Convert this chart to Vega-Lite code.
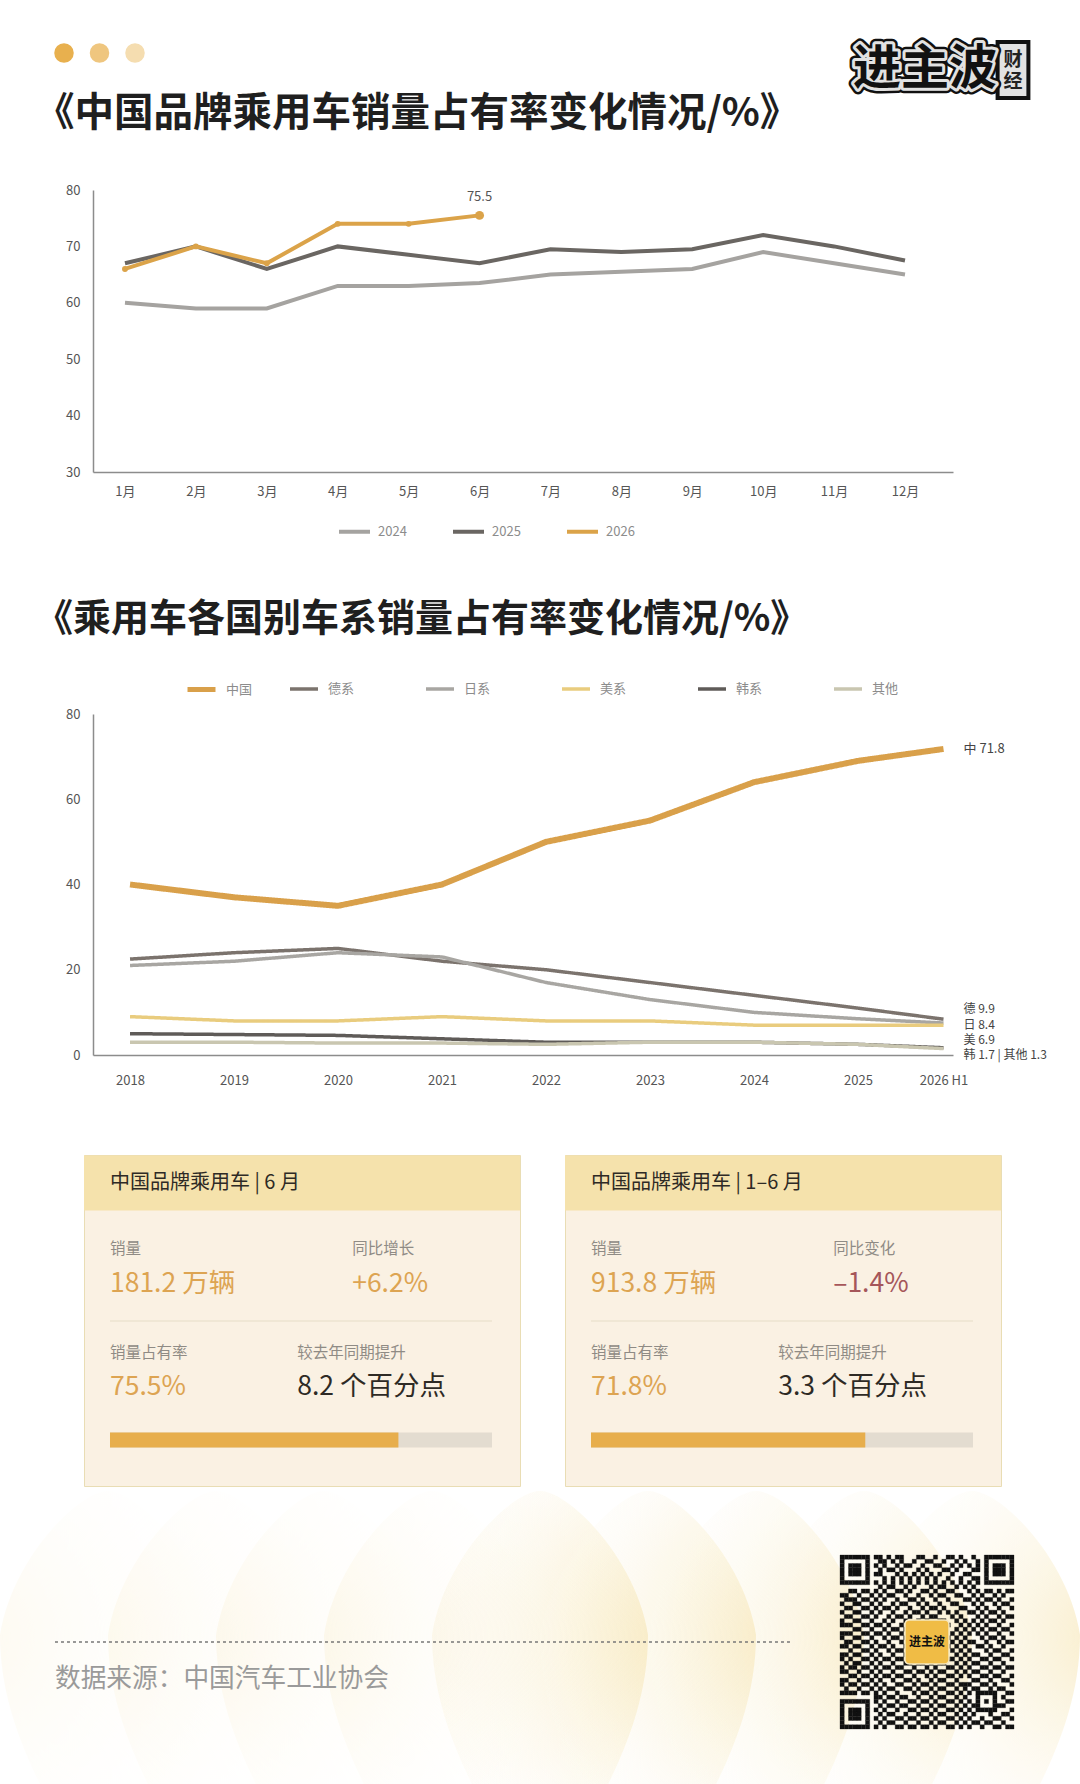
{
  "$schema": "https://vega.github.io/schema/vega-lite/v6.json",
  "background": "white",
  "padding": 0,
  "bounds": "flush",
  "spacing": 0,
  "resolve": {"scale": {"color": "independent", "size": "independent", "strokeWidth": "independent", "strokeDash": "independent", "opacity": "independent", "fillOpacity": "independent"}},
  "config": {
    "font": "Noto Sans CJK SC",
    "view": {"stroke": null},
    "title": {"anchor": "start", "frame": "group", "fontSize": 39.5, "fontWeight": "bold", "color": "#1f1f1f"},
    "axis": {"ticks": false, "grid": false, "labelFontSize": 13, "labelColor": "#555555", "domainColor": "#8c8c8c", "domainWidth": 1.5, "title": null}
  },
  "datasets": {
    "header": [
      {"part": "dot", "slot": 1, "row": 1},
      {"part": "dot", "slot": 2, "row": 1},
      {"part": "dot", "slot": 3, "row": 1},
      {"part": "box", "slot": 5, "row": 2},
      {"part": "brand", "slot": 4, "row": 2, "text": "进主波"},
      {"part": "fin", "slot": 5, "row": 3, "text": "财"},
      {"part": "fin", "slot": 5, "row": 4, "text": "经"}
    ],
    "brandShare": [
      {"series": "2024", "month": 1, "value": 60},
      {"series": "2024", "month": 2, "value": 59},
      {"series": "2024", "month": 3, "value": 59},
      {"series": "2024", "month": 4, "value": 63},
      {"series": "2024", "month": 5, "value": 63},
      {"series": "2024", "month": 6, "value": 63.5},
      {"series": "2024", "month": 7, "value": 65},
      {"series": "2024", "month": 8, "value": 65.5},
      {"series": "2024", "month": 9, "value": 66},
      {"series": "2024", "month": 10, "value": 69},
      {"series": "2024", "month": 11, "value": 67},
      {"series": "2024", "month": 12, "value": 65},
      {"series": "2025", "month": 1, "value": 67},
      {"series": "2025", "month": 2, "value": 70},
      {"series": "2025", "month": 3, "value": 66},
      {"series": "2025", "month": 4, "value": 70},
      {"series": "2025", "month": 5, "value": 68.5},
      {"series": "2025", "month": 6, "value": 67},
      {"series": "2025", "month": 7, "value": 69.5},
      {"series": "2025", "month": 8, "value": 69},
      {"series": "2025", "month": 9, "value": 69.5},
      {"series": "2025", "month": 10, "value": 72},
      {"series": "2025", "month": 11, "value": 70},
      {"series": "2025", "month": 12, "value": 67.5},
      {"series": "2026", "month": 1, "value": 66},
      {"series": "2026", "month": 2, "value": 70},
      {"series": "2026", "month": 3, "value": 67},
      {"series": "2026", "month": 4, "value": 74},
      {"series": "2026", "month": 5, "value": 74},
      {"series": "2026", "month": 6, "value": 75.5}
    ],
    "national": [
      {"series": "中国", "year": 2018, "value": 40},
      {"series": "中国", "year": 2019, "value": 37},
      {"series": "中国", "year": 2020, "value": 35},
      {"series": "中国", "year": 2021, "value": 40},
      {"series": "中国", "year": 2022, "value": 50},
      {"series": "中国", "year": 2023, "value": 55},
      {"series": "中国", "year": 2024, "value": 64},
      {"series": "中国", "year": 2025, "value": 69},
      {"series": "中国", "year": 2026, "value": 71.8},
      {"series": "德系", "year": 2018, "value": 22.5},
      {"series": "德系", "year": 2019, "value": 24},
      {"series": "德系", "year": 2020, "value": 25},
      {"series": "德系", "year": 2021, "value": 22},
      {"series": "德系", "year": 2022, "value": 20},
      {"series": "德系", "year": 2023, "value": 17},
      {"series": "德系", "year": 2024, "value": 14},
      {"series": "德系", "year": 2025, "value": 11},
      {"series": "德系", "year": 2026, "value": 8.4},
      {"series": "日系", "year": 2018, "value": 21},
      {"series": "日系", "year": 2019, "value": 22},
      {"series": "日系", "year": 2020, "value": 24},
      {"series": "日系", "year": 2021, "value": 23},
      {"series": "日系", "year": 2022, "value": 17},
      {"series": "日系", "year": 2023, "value": 13},
      {"series": "日系", "year": 2024, "value": 10},
      {"series": "日系", "year": 2025, "value": 8.5},
      {"series": "日系", "year": 2026, "value": 7.5},
      {"series": "美系", "year": 2018, "value": 9},
      {"series": "美系", "year": 2019, "value": 8},
      {"series": "美系", "year": 2020, "value": 8},
      {"series": "美系", "year": 2021, "value": 9},
      {"series": "美系", "year": 2022, "value": 8},
      {"series": "美系", "year": 2023, "value": 8},
      {"series": "美系", "year": 2024, "value": 7},
      {"series": "美系", "year": 2025, "value": 7},
      {"series": "美系", "year": 2026, "value": 7},
      {"series": "韩系", "year": 2018, "value": 5},
      {"series": "韩系", "year": 2019, "value": 4.8},
      {"series": "韩系", "year": 2020, "value": 4.6},
      {"series": "韩系", "year": 2021, "value": 3.8},
      {"series": "韩系", "year": 2022, "value": 3},
      {"series": "韩系", "year": 2023, "value": 3},
      {"series": "韩系", "year": 2024, "value": 3},
      {"series": "韩系", "year": 2025, "value": 2.5},
      {"series": "韩系", "year": 2026, "value": 1.7},
      {"series": "其他", "year": 2018, "value": 3},
      {"series": "其他", "year": 2019, "value": 3},
      {"series": "其他", "year": 2020, "value": 2.8},
      {"series": "其他", "year": 2021, "value": 2.8},
      {"series": "其他", "year": 2022, "value": 2.5},
      {"series": "其他", "year": 2023, "value": 3},
      {"series": "其他", "year": 2024, "value": 3},
      {"series": "其他", "year": 2025, "value": 2.5},
      {"series": "其他", "year": 2026, "value": 1.5}
    ],
    "cards": [
      {"card": "A", "use": "band", "row": 1, "from": -6.806, "share": 107.33},
      {"card": "A", "use": "rule", "part": "divider", "row": 4, "from": 0, "share": 100},
      {"card": "A", "use": "rule", "part": "track", "row": 7, "from": 0, "share": 100},
      {"card": "A", "use": "rule", "part": "fill", "row": 7, "from": 0, "share": 75.5},
      {"card": "A", "use": "text", "from": 0, "row": 1, "kind": "header", "part": "ink", "text": "中国品牌乘用车 | 6 月"},
      {"card": "A", "use": "text", "from": 0, "row": 2, "kind": "label", "part": "muted", "text": "销量"},
      {"card": "A", "use": "text", "from": 63.4, "row": 2, "kind": "label", "part": "muted", "text": "同比增长"},
      {"card": "A", "use": "text", "from": 0, "row": 3, "kind": "value", "part": "gold", "text": "181.2 万辆"},
      {"card": "A", "use": "text", "from": 63.4, "row": 3, "kind": "value", "part": "gold", "text": "+6.2%"},
      {"card": "A", "use": "text", "from": 0, "row": 5, "kind": "label", "part": "muted", "text": "销量占有率"},
      {"card": "A", "use": "text", "from": 49, "row": 5, "kind": "label", "part": "muted", "text": "较去年同期提升"},
      {"card": "A", "use": "text", "from": 0, "row": 6, "kind": "value", "part": "gold", "text": "75.5%"},
      {"card": "A", "use": "text", "from": 49, "row": 6, "kind": "value", "part": "ink", "text": "8.2 个百分点"},
      {"card": "B", "use": "band", "row": 1, "from": -6.806, "share": 107.33},
      {"card": "B", "use": "rule", "part": "divider", "row": 4, "from": 0, "share": 100},
      {"card": "B", "use": "rule", "part": "track", "row": 7, "from": 0, "share": 100},
      {"card": "B", "use": "rule", "part": "fill", "row": 7, "from": 0, "share": 71.8},
      {"card": "B", "use": "text", "from": 0, "row": 1, "kind": "header", "part": "ink", "text": "中国品牌乘用车 | 1–6 月"},
      {"card": "B", "use": "text", "from": 0, "row": 2, "kind": "label", "part": "muted", "text": "销量"},
      {"card": "B", "use": "text", "from": 63.4, "row": 2, "kind": "label", "part": "muted", "text": "同比变化"},
      {"card": "B", "use": "text", "from": 0, "row": 3, "kind": "value", "part": "gold", "text": "913.8 万辆"},
      {"card": "B", "use": "text", "from": 63.4, "row": 3, "kind": "value", "part": "down", "text": "–1.4%"},
      {"card": "B", "use": "text", "from": 0, "row": 5, "kind": "label", "part": "muted", "text": "销量占有率"},
      {"card": "B", "use": "text", "from": 49, "row": 5, "kind": "label", "part": "muted", "text": "较去年同期提升"},
      {"card": "B", "use": "text", "from": 0, "row": 6, "kind": "value", "part": "gold", "text": "71.8%"},
      {"card": "B", "use": "text", "from": 49, "row": 6, "kind": "value", "part": "ink", "text": "3.3 个百分点"}
    ],
    "qr": [
      {"r": 0, "c": [0,1,2,3,4,5,6,8,9,11,13,14,18,19,22,25,26,28,31,34,35,36,37,38,39,40]},
      {"r": 1, "c": [0,6,9,10,12,14,17,20,21,24,27,29,32,34,40]},
      {"r": 2, "c": [0,2,3,4,6,8,10,13,15,16,19,22,23,26,28,30,32,34,36,37,38,40]},
      {"r": 3, "c": [0,2,3,4,6,9,11,12,14,18,20,24,25,27,31,32,34,36,37,38,40]},
      {"r": 4, "c": [0,2,3,4,6,8,9,13,15,17,19,21,23,26,29,30,34,36,37,38,40]},
      {"r": 5, "c": [0,6,10,12,14,16,18,20,22,25,28,31,32,34,40]},
      {"r": 6, "c": [0,1,2,3,4,5,6,8,10,12,14,16,18,20,22,24,26,28,30,32,34,35,36,37,38,39,40]},
      {"r": 7, "c": [9,11,12,15,17,21,23,24,27,29,31]},
      {"r": 8, "c": [2,3,5,6,8,10,13,14,16,19,20,22,25,26,30,32,34,35,37,39,40]},
      {"r": 9, "c": [0,1,4,7,9,11,12,15,18,21,23,24,27,28,31,33,36,38]},
      {"r": 10, "c": [1,2,3,5,6,8,10,13,16,17,19,22,25,29,30,32,34,35,37,40]},
      {"r": 11, "c": [0,3,4,7,9,12,14,15,18,20,23,26,27,31,33,36,38,39]},
      {"r": 12, "c": [1,2,5,6,8,10,11,13,16,19,21,22,24,28,29,32,34,37,40]},
      {"r": 13, "c": [0,3,4,7,9,12,15,17,18,20,23,25,27,30,31,33,35,36,38]},
      {"r": 14, "c": [1,2,5,6,8,11,13,14,16,19,21,22,26,28,32,34,37,39,40]},
      {"r": 15, "c": [0,3,4,7,10,12,15,18,20,23,24,27,29,31,33,35,36,38]},
      {"r": 16, "c": [0,1,2,5,6,8,9,11,14,25,28,30,32,34,37,40]},
      {"r": 17, "c": [3,4,7,10,12,13,15,27,29,31,33,35,36,38,39]},
      {"r": 18, "c": [0,1,2,5,6,8,9,11,14,26,28,30,32,34,37,40]},
      {"r": 19, "c": [0,3,4,7,10,12,13,15,25,27,29,33,35,36,38]},
      {"r": 20, "c": [1,2,5,6,8,11,14,26,28,30,31,34,37,39,40]},
      {"r": 21, "c": [0,1,3,4,7,9,10,12,15,25,27,29,32,33,35,38]},
      {"r": 22, "c": [2,5,6,8,11,13,14,26,28,30,34,36,37,40]},
      {"r": 23, "c": [0,1,3,4,7,9,12,15,27,29,31,32,35,38,39]},
      {"r": 24, "c": [0,2,5,6,8,10,11,13,14,25,26,28,30,33,34,36,37,40]},
      {"r": 25, "c": [1,3,4,7,9,12,15,16,18,19,21,23,24,27,29,31,32,35,38]},
      {"r": 26, "c": [0,2,3,5,6,8,10,11,13,14,17,20,22,25,26,28,30,33,34,36,37,39,40]},
      {"r": 27, "c": [0,1,4,7,9,12,15,16,18,19,21,23,24,27,29,31,32,35,38]},
      {"r": 28, "c": [2,3,5,6,8,10,11,13,14,17,20,22,25,26,28,30,33,34,36,37,40]},
      {"r": 29, "c": [0,1,4,7,9,12,15,16,18,21,23,24,27,31,32,35,38,39]},
      {"r": 30, "c": [0,2,3,5,6,8,10,13,14,17,19,20,22,25,26,28,29,30,33,34,36,40]},
      {"r": 31, "c": [1,4,7,9,11,12,15,16,18,21,23,24,27,29,31,32,35,37,38]},
      {"r": 32, "c": [0,1,2,3,5,6,8,10,13,17,19,20,22,25,26,28,30,32,33,34,35,36,39,40]},
      {"r": 33, "c": [8,9,11,12,14,15,18,21,23,24,27,29,32,36,38]},
      {"r": 34, "c": [0,1,2,3,4,5,6,8,10,13,16,17,19,20,22,25,26,28,30,32,34,36,39,40]},
      {"r": 35, "c": [0,6,9,11,12,14,15,18,21,23,24,27,29,31,32,36,37,38]},
      {"r": 36, "c": [0,2,3,4,6,8,10,13,16,17,19,20,22,25,26,28,30,32,33,34,35,36,40]},
      {"r": 37, "c": [0,2,3,4,6,9,11,12,15,18,21,23,24,27,29,31,35,38,39]},
      {"r": 38, "c": [0,2,3,4,6,8,10,13,14,16,17,19,20,22,25,26,28,30,33,36,37,40]},
      {"r": 39, "c": [0,6,9,11,12,15,18,21,23,24,27,29,31,32,34,35,38]},
      {"r": 40, "c": [0,1,2,3,4,5,6,8,10,13,14,16,17,19,20,22,25,26,28,30,33,36,37,39,40]}
    ]
  },
  "vconcat": [
    {
      "width": 1080,
      "height": 190,
      "data": {"name": "header"},
      "encoding": {
        "x": {"field": "slot", "type": "quantitative", "axis": null, "scale": {"domain": [1,2,3,4,5], "range": [64,99.5,135,925,1013], "nice": false, "zero": false}},
        "y": {"field": "row", "type": "quantitative", "axis": null, "scale": {"domain": [1,2,3,4], "range": [53,70,60,82], "nice": false, "zero": false}}
      },
      "layer": [
        {
          "transform": [{"filter": "datum.part == 'dot'"}],
          "mark": {"type": "point", "filled": true, "size": 380, "opacity": 1},
          "encoding": {
            "color": {"field": "slot", "type": "ordinal", "legend": null, "scale": {"domain": [1,2,3], "range": ["#E8B04E","#EFC67F","#F5DDB0"]}}
          }
        },
        {
          "transform": [{"filter": "datum.part == 'box'"}],
          "mark": {"type": "point", "shape": "M-0.55,-1H0.55V1H-0.55Z", "size": 3136, "filled": true, "opacity": 1, "fill": "#e2e2e2", "stroke": "#111111", "strokeWidth": 4}
        },
        {
          "transform": [{"filter": "datum.part == 'brand'"}],
          "mark": {"type": "text", "fontSize": 48, "fontWeight": "bold", "stroke": "#111111", "strokeWidth": 11, "strokeJoin": "round", "color": "#111111"},
          "encoding": {"text": {"field": "text", "type": "nominal"}}
        },
        {
          "transform": [{"filter": "datum.part == 'brand'"}],
          "mark": {"type": "text", "fontSize": 48, "fontWeight": "bold", "stroke": "#e2e2e2", "strokeWidth": 6, "strokeJoin": "round", "color": "#e2e2e2"},
          "encoding": {"text": {"field": "text", "type": "nominal"}}
        },
        {
          "transform": [{"filter": "datum.part == 'brand'"}],
          "mark": {"type": "text", "fontSize": 48, "fontWeight": "bold", "color": "#111111"},
          "encoding": {"text": {"field": "text", "type": "nominal"}}
        },
        {
          "transform": [{"filter": "datum.part == 'fin'"}],
          "mark": {"type": "text", "fontSize": 19, "fontWeight": "bold", "color": "#222222"},
          "encoding": {"text": {"field": "text", "type": "nominal"}}
        }
      ]
    },
    {
      "width": 1080,
      "height": 282,
      "title": {"text": "《中国品牌乘用车销量占有率变化情况/%》", "dx": 35, "offset": 50},
      "data": {"name": "brandShare"},
      "encoding": {
        "x": {
          "field": "month",
          "type": "quantitative",
          "scale": {"domain": [0.549,12.677], "range": [93,953], "nice": false, "zero": false},
          "axis": {"values": [1,2,3,4,5,6,7,8,9,10,11,12], "labelExpr": "datum.value + '月'", "labelPadding": 13}
        },
        "y": {
          "field": "value",
          "type": "quantitative",
          "scale": {"domain": [30,80], "nice": false, "zero": false},
          "axis": {"values": [30,40,50,60,70,80], "offset": -93, "labelPadding": 13}
        }
      },
      "layer": [
        {
          "mark": {"type": "line", "strokeWidth": 4},
          "encoding": {
            "color": {
              "field": "series",
              "type": "nominal",
              "scale": {"domain": ["2024","2025","2026"], "range": ["#A5A3A0","#6A6662","#DBA349"]},
              "legend": {"orient": "none", "legendX": 337, "legendY": 324, "direction": "horizontal", "columns": 3, "title": null, "symbolType": "stroke", "symbolSize": 961, "symbolStrokeWidth": 4, "labelFontSize": 13, "labelColor": "#8c8c8c", "labelOffset": 6, "columnPadding": 38}
            }
          }
        },
        {
          "transform": [{"filter": "datum.series == '2026' && datum.month < 6"}],
          "mark": {"type": "point", "filled": true, "size": 35, "opacity": 1, "color": "#DBA349"}
        },
        {
          "transform": [{"filter": "datum.month == 6 && datum.series == '2026'"}],
          "mark": {"type": "point", "filled": true, "size": 80, "opacity": 1, "color": "#DBA349"}
        },
        {
          "transform": [{"filter": "datum.month == 6 && datum.series == '2026'"}],
          "mark": {"type": "text", "dy": -18, "fontSize": 13, "color": "#555555"},
          "encoding": {"text": {"field": "value", "type": "quantitative", "format": ".1f"}}
        }
      ]
    },
    {"width": 1080, "height": 242, "data": {"values": []}, "mark": "point"},
    {
      "width": 1080,
      "height": 341,
      "title": {"text": "《乘用车各国别车系销量占有率变化情况/%》", "dx": 35, "offset": 34, "fontSize": 38},
      "data": {"name": "national"},
      "encoding": {
        "x": {
          "field": "year",
          "type": "quantitative",
          "scale": {"domain": [2017.644,2025,2026,2026.11], "range": [93,858,943.5,953], "nice": false, "zero": false},
          "axis": {"values": [2018,2019,2020,2021,2022,2023,2024,2025,2026], "labelExpr": "datum.value == 2026 ? '2026 H1' : '' + datum.value", "labelPadding": 19}
        },
        "y": {
          "field": "value",
          "type": "quantitative",
          "scale": {"domain": [0,80], "nice": false},
          "axis": {"values": [0,20,40,60,80], "offset": -93, "labelPadding": 13}
        }
      },
      "layer": [
        {
          "mark": {"type": "line"},
          "encoding": {
            "color": {
              "field": "series",
              "type": "nominal",
              "scale": {"domain": ["中国","德系","日系","美系","韩系","其他"], "range": ["#D9A04A","#7B736D","#A8A6A2","#E9CC7E","#5F5B58","#C9C6B0"]},
              "legend": {"values": ["德系","日系","美系","韩系","其他"], "orient": "none", "legendX": 288, "legendY": -41, "direction": "horizontal", "columns": 5, "title": null, "symbolType": "stroke", "symbolSize": 784, "symbolStrokeWidth": 4, "labelFontSize": 13, "labelColor": "#8c8c8c", "labelOffset": 8, "columnPadding": 64}
            },
            "strokeDash": {
              "field": "series",
              "type": "nominal",
              "scale": {"domain": ["其他","韩系","美系","日系","德系","中国"], "range": [[1,0],[1,0],[1,0],[1,0],[1,0],[1,0]]},
              "legend": {"values": ["中国"], "orient": "none", "legendX": 185, "legendY": -41, "direction": "horizontal", "title": null, "symbolType": "stroke", "symbolSize": 784, "symbolStrokeWidth": 5, "symbolStrokeColor": "#D9A04A", "labelFontSize": 13, "labelColor": "#8c8c8c", "labelOffset": 8}
            },
            "strokeWidth": {
              "field": "series",
              "type": "nominal",
              "legend": null,
              "scale": {"type": "ordinal", "domain": ["中国","德系","日系","美系","韩系","其他"], "range": [6,3.5,3.5,3.5,3.5,3.5]}
            }
          }
        },
        {
          "data": {"values": [{"label": "中 71.8", "year": 2026, "value": 71.8}]},
          "mark": {"type": "text", "align": "left", "dx": 20, "fontSize": 13, "color": "#444444"},
          "encoding": {"text": {"field": "label", "type": "nominal"}}
        },
        {
          "data": {"values": [{"label": "德 9.9", "year": 2026, "value": 9.9}]},
          "mark": {"type": "text", "align": "left", "dx": 20, "dy": -4, "fontSize": 12, "color": "#444444"},
          "encoding": {"text": {"field": "label", "type": "nominal"}}
        },
        {
          "data": {"values": [{"label": "日 8.4", "year": 2026, "value": 8.4}]},
          "mark": {"type": "text", "align": "left", "dx": 20, "dy": 6, "fontSize": 12, "color": "#444444"},
          "encoding": {"text": {"field": "label", "type": "nominal"}}
        },
        {
          "data": {"values": [{"label": "美 6.9", "year": 2026, "value": 6.9}]},
          "mark": {"type": "text", "align": "left", "dx": 20, "dy": 14.5, "fontSize": 12, "color": "#444444"},
          "encoding": {"text": {"field": "label", "type": "nominal"}}
        },
        {
          "data": {"values": [{"label": "韩 1.7 | 其他 1.3", "year": 2026, "value": 1.7}]},
          "mark": {"type": "text", "align": "left", "dx": 20, "dy": 7.5, "fontSize": 12, "color": "#444444"},
          "encoding": {"text": {"field": "label", "type": "nominal"}}
        }
      ]
    },
    {"width": 1080, "height": 100, "data": {"values": []}, "mark": "point"},
    {
      "bounds": "flush",
      "spacing": 45,
      "resolve": {"scale": {"color": "independent", "size": "independent", "strokeWidth": "independent"}},
      "hconcat": [
        {"width": 39, "height": 331, "data": {"values": []}, "mark": "point"},
        {
          "data": {"name": "cards"},
          "transform": [{"filter": "datum.card == 'A'"}],
          "width": 436,
          "height": 331,
          "view": {"fill": "#FAF1E3", "stroke": "#E9DDB4"},
          "encoding": {
            "x": {"field": "from", "type": "quantitative", "axis": null, "scale": {"domain": [-6.806,107.33], "nice": false, "zero": false}},
            "y": {"field": "row", "type": "quantitative", "axis": null, "scale": {"domain": [1,2,3,4,5,6,7], "range": [28,94,129,166,198,232,285], "nice": false, "zero": false}},
            "color": {"field": "part", "type": "nominal", "legend": null, "scale": {"domain": ["divider","track","fill","ink","muted","gold","down"], "range": ["#EDE3D1","#E3DCD0","#E7AE4C","#2e2a25","#8f8b85","#DDA452","#A5565A"]}}
          },
          "layer": [
            {
              "transform": [{"filter": "datum.use == 'band'"}],
              "mark": {"type": "rule", "strokeWidth": 55},
              "encoding": {"x2": {"field": "share"}, "color": {"value": "#F5E2AC"}}
            },
            {
              "transform": [{"filter": "datum.use == 'rule'"}],
              "mark": {"type": "rule"},
              "encoding": {
                "x2": {"field": "share"},
                "strokeWidth": {"field": "part", "type": "nominal", "legend": null, "scale": {"type": "ordinal", "domain": ["divider","track","fill"], "range": [1.5,15,15]}}
              }
            },
            {
              "transform": [{"filter": "datum.use == 'text'"}],
              "mark": {"type": "text", "align": "left", "baseline": "middle"},
              "encoding": {
                "text": {"field": "text", "type": "nominal"},
                "size": {"field": "kind", "type": "nominal", "legend": null, "scale": {"type": "ordinal", "domain": ["header","label","value"], "range": [20,15.5,26.5]}}
              }
            }
          ]
        },
        {
          "data": {"name": "cards"},
          "transform": [{"filter": "datum.card == 'B'"}],
          "width": 436,
          "height": 331,
          "view": {"fill": "#FAF1E3", "stroke": "#E9DDB4"},
          "encoding": {
            "x": {"field": "from", "type": "quantitative", "axis": null, "scale": {"domain": [-6.806,107.33], "nice": false, "zero": false}},
            "y": {"field": "row", "type": "quantitative", "axis": null, "scale": {"domain": [1,2,3,4,5,6,7], "range": [28,94,129,166,198,232,285], "nice": false, "zero": false}},
            "color": {"field": "part", "type": "nominal", "legend": null, "scale": {"domain": ["divider","track","fill","ink","muted","gold","down"], "range": ["#EDE3D1","#E3DCD0","#E7AE4C","#2e2a25","#8f8b85","#DDA452","#A5565A"]}}
          },
          "layer": [
            {
              "transform": [{"filter": "datum.use == 'band'"}],
              "mark": {"type": "rule", "strokeWidth": 55},
              "encoding": {"x2": {"field": "share"}, "color": {"value": "#F5E2AC"}}
            },
            {
              "transform": [{"filter": "datum.use == 'rule'"}],
              "mark": {"type": "rule"},
              "encoding": {
                "x2": {"field": "share"},
                "strokeWidth": {"field": "part", "type": "nominal", "legend": null, "scale": {"type": "ordinal", "domain": ["divider","track","fill"], "range": [1.5,15,15]}}
              }
            },
            {
              "transform": [{"filter": "datum.use == 'text'"}],
              "mark": {"type": "text", "align": "left", "baseline": "middle"},
              "encoding": {
                "text": {"field": "text", "type": "nominal"},
                "size": {"field": "kind", "type": "nominal", "legend": null, "scale": {"type": "ordinal", "domain": ["header","label","value"], "range": [20,15.5,26.5]}}
              }
            }
          ]
        }
      ]
    },
    {"width": 1080, "height": 331, "data": {"values": []}, "mark": "point"},
    {
      "bounds": "flush",
      "spacing": 0,
      "resolve": {"scale": {"opacity": "independent", "fillOpacity": "independent"}},
      "hconcat": [
        {
          "width": 840,
          "height": 298,
          "encoding": {
            "x": {"field": "pos", "type": "quantitative", "axis": null, "scale": {"domain": [0,10], "range": [0,1080], "nice": false, "zero": false}},
            "y": {"field": "row", "type": "quantitative", "axis": null, "scale": {"domain": [0,1,2], "range": [149,156,193], "nice": false, "zero": false}}
          },
          "layer": [
            {
              "data": {"values": [{"pos": 1, "row": 0},{"pos": 2, "row": 0},{"pos": 3, "row": 0},{"pos": 4, "row": 0},{"pos": 5, "row": 0}]},
              "mark": {
                "type": "point",
                "shape": "M0,-.75C.15,-.75 .5,-.4 .5625,0C.5625,.3 .46,.56 .355,.776H-.355C-.46,.56 -.5625,.3 -.5625,0C-.5,-.4 -.15,-.75 0,-.75Z",
                "size": 147456,
                "filled": true,
                "stroke": null,
                "fill": {"gradient": "radial", "x1": 0, "y1": 0.5, "r1": 0, "x2": 0, "y2": 0.5, "r2": 1, "stops": [{"offset": 0, "color": "rgba(247,232,190,0.85)"},{"offset": 1, "color": "rgba(255,255,255,0)"}]}
              },
              "encoding": {
                "opacity": {"field": "pos", "type": "ordinal", "legend": null, "scale": {"domain": [1,2,3,4,5], "range": [0.3,0.45,0.6,0.8,1]}}
              }
            },
            {
              "data": {"values": [{"pos": 5, "row": 0},{"pos": 6, "row": 0},{"pos": 7, "row": 0},{"pos": 8, "row": 0},{"pos": 9, "row": 0}]},
              "mark": {
                "type": "point",
                "shape": "M0,-.75C.15,-.75 .5,-.4 .5625,0C.5625,.3 .46,.56 .355,.776H-.355C-.46,.56 -.5625,.3 -.5625,0C-.5,-.4 -.15,-.75 0,-.75Z",
                "size": 147456,
                "filled": true,
                "opacity": 1,
                "stroke": null,
                "fill": {"gradient": "radial", "x1": 1, "y1": 0.5, "r1": 0, "x2": 1, "y2": 0.5, "r2": 1, "stops": [{"offset": 0, "color": "rgba(245,226,170,0.95)"},{"offset": 1, "color": "rgba(255,255,255,0)"}]}
              },
              "encoding": {
                "fillOpacity": {"field": "pos", "type": "ordinal", "legend": null, "scale": {"domain": [5,6,7,8,9], "range": [1,0.7,0.45,0.25,0.15]}}
              }
            },
            {
              "data": {"values": [{"pos": 0.509, "to": 7.315, "row": 1}]},
              "mark": {"type": "rule", "strokeDash": [3,3], "strokeWidth": 1.5, "color": "#777777"},
              "encoding": {"x2": {"field": "to"}}
            },
            {
              "data": {"values": [{"pos": 0.509, "row": 2, "text": "数据来源：中国汽车工业协会"}]},
              "mark": {"type": "text", "align": "left", "fontSize": 25.7, "color": "#9a9a9a"},
              "encoding": {"text": {"field": "text", "type": "nominal"}}
            }
          ]
        },
        {
          "width": 240,
          "height": 298,
          "encoding": {
            "x": {"field": "c", "type": "ordinal", "axis": null, "scale": {"type": "band", "domain": [0,1,2,3,4,5,6,7,8,9,10,11,12,13,14,15,16,17,18,19,20,21,22,23,24,25,26,27,28,29,30,31,32,33,34,35,36,37,38,39,40], "range": [0,174], "paddingInner": 0, "paddingOuter": 0}},
            "y": {"field": "r", "type": "ordinal", "axis": null, "scale": {"type": "band", "domain": [0,1,2,3,4,5,6,7,8,9,10,11,12,13,14,15,16,17,18,19,20,21,22,23,24,25,26,27,28,29,30,31,32,33,34,35,36,37,38,39,40], "range": [69,243], "paddingInner": 0, "paddingOuter": 0}}
          },
          "layer": [
            {
              "data": {"name": "qr"},
              "transform": [{"flatten": ["c"]}],
              "mark": {"type": "rect", "color": "#111111", "stroke": "#111111", "strokeWidth": 0.3}
            },
            {
              "data": {"values": [{"c": 20, "r": 20}]},
              "mark": {"type": "point", "shape": "M-.8,-1H.8Q1,-1 1,-.8V.8Q1,1 .8,1H-.8Q-1,1 -1,.8V-.8Q-1,-1 -.8,-1Z", "size": 1936, "filled": true, "opacity": 1, "fill": "#F0BC45", "stroke": "#F5E7C0", "strokeWidth": 1.5}
            },
            {
              "data": {"values": [{"c": 20, "r": 20, "text": "进主波"}]},
              "mark": {"type": "text", "fontSize": 12, "fontWeight": "bold", "color": "#111111"},
              "encoding": {"text": {"field": "text", "type": "nominal"}}
            }
          ]
        }
      ]
    }
  ]
}
